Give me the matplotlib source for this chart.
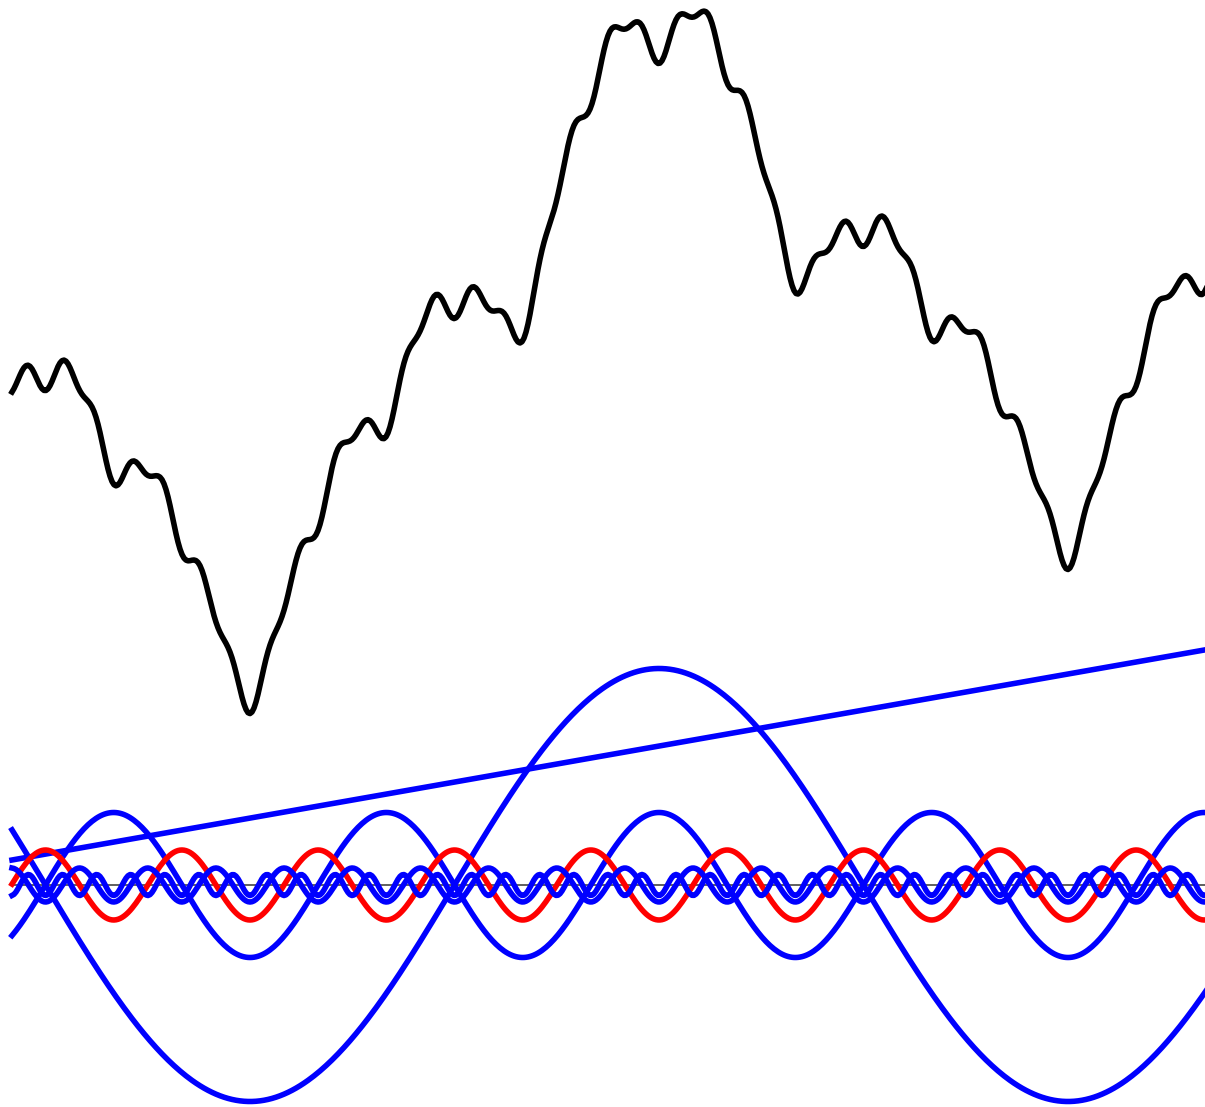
import numpy as np
import matplotlib
matplotlib.use("Agg")
import matplotlib.pyplot as plt

# Fourier-style decomposition: a trend plus cosine harmonics, and their sum on top.
# All values in screen-like units (x = sample position, y = value above the zero line).
x_start, x_end = 12, 1210
fundamental_period = 818.0
trough_x = 250.0                   # all harmonics bottom out here

harmonics = [1, 3, 6, 12, 24]
amplitudes = [216.5, 72.5, 35.0, 17.0, 10.5]
colors = ['blue', 'blue', 'red', 'blue', 'blue']

trend_start, trend_end = 25.0, 236.0
sum_offset = 456.0                 # the summed curve is lifted above the parts

x = np.linspace(x_start, x_end, 600)
trend = np.interp(x, [x_start, x_end], [trend_start, trend_end])

parts = []
for k, a in zip(harmonics, amplitudes):
    parts.append(-a * np.cos(2 * np.pi * k * (x - trough_x) / fundamental_period))

total = trend + np.sum(parts, axis=0) + sum_offset

fig = plt.figure(figsize=(12.05, 11.07), dpi=100)
ax = fig.add_axes([0, 0, 1, 1])
ax.set_xlim(0, 1205)
ax.set_ylim(-222, 885)
ax.axis('off')

lw = 4.0
ax.plot([x_start, x_end], [0, 0], color='#444444', lw=1.2, zorder=1)
ax.plot(x, total, color='black', lw=lw, zorder=2)
ax.plot(x, trend, color='blue', lw=lw, zorder=3)
for p, c in zip(parts, colors):
    ax.plot(x, p, color=c, lw=lw, zorder=3)

fig.savefig('out.png', dpi=100)
